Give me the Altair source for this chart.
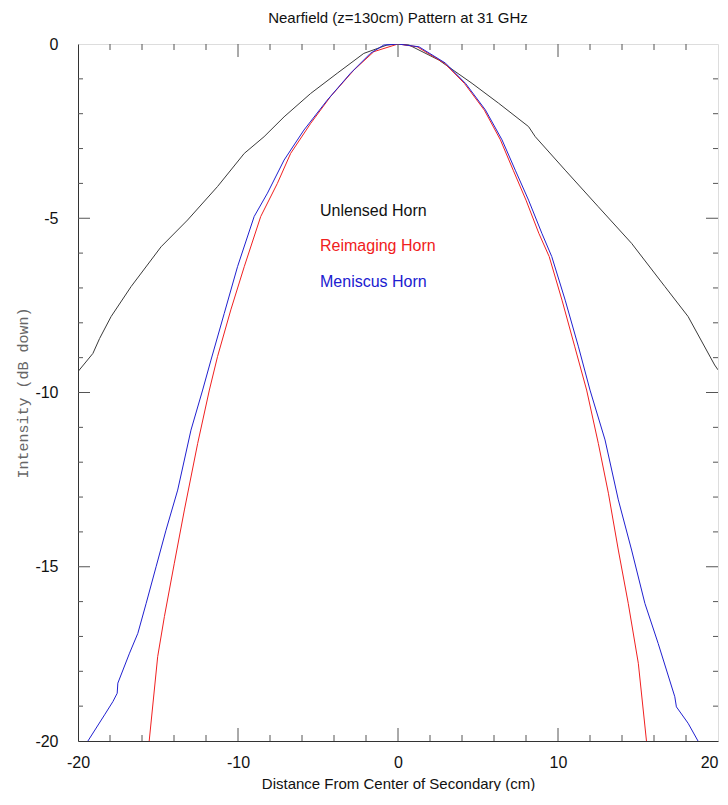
import altair as alt
import pandas as pd

# ---------------- data ----------------
series_names = ["Unlensed Horn", "Reimaging Horn", "Meniscus Horn"]
series_colors = ["#3a3a3a", "#f02020", "#2020d0"]

unlensed_x = [-20, -19.07, -18.65, -17.93, -16.68, -14.81, -13.15, -11.28, -9.61, -8.37,
              -7.12, -5.46, -3.80, -2.14, -0.69, 0, 0.69, 2.55, 4.63, 6.29, 8.16, 8.58,
              10.45, 12.52, 14.60, 16.68, 18.13, 19.79, 20]
unlensed_y = [-9.40, -8.88, -8.45, -7.82, -6.96, -5.82, -5.05, -4.09, -3.14, -2.66,
              -2.09, -1.42, -0.84, -0.27, -0.03, 0, -0.03, -0.46, -1.13, -1.70, -2.37, -2.66,
              -3.62, -4.67, -5.72, -6.96, -7.82, -9.21, -9.35]

reimaging_x = [-15.55, -15.02, -14.60, -13.98, -13.35, -12.52, -11.79, -11.28, -10.45, -9.61,
               -8.58, -7.54, -6.71, -5.46, -4.22, -2.76, -1.51, 0, 1.2, 2.9, 4.15, 5.4, 6.4,
               7.2, 8.0, 8.8, 9.45, 10.25, 11.05, 11.79, 12.52, 13.15, 13.77, 14.39, 15.02,
               15.53]
reimaging_y = [-20.0, -17.58, -16.43, -14.90, -13.37, -11.46, -9.93, -8.97, -7.63, -6.39,
               -4.95, -4.00, -3.14, -2.28, -1.51, -0.75, -0.22, 0, -0.08, -0.55, -1.13, -1.90,
               -2.75, -3.62, -4.48, -5.43, -6.10, -7.35, -8.69, -9.93, -11.46, -12.89, -14.52,
               -16.05, -17.77, -20.0]

meniscus_x = [-19.38, -18.34, -17.82, -17.55, -17.51, -16.78, -16.26, -15.74, -15.12, -14.50,
              -13.77, -12.94, -12.21, -11.69, -10.86, -10.03, -8.99, -8.16, -7.12, -5.88,
              -4.42, -2.97, -1.73, -0.89, 0, 1.31, 2.97, 4.22, 5.46, 6.50, 7.33, 8.16, 8.99,
              9.61, 10.45, 11.28, 12.00, 12.94, 13.77, 14.60, 15.43, 16.26, 17.30, 17.40,
              18.13, 18.75]
meniscus_y = [-20.0, -19.25, -18.87, -18.63, -18.34, -17.48, -16.91, -16.05, -15.00, -13.95,
              -12.80, -11.08, -9.93, -9.07, -7.73, -6.39, -4.95, -4.28, -3.33, -2.47,
              -1.61, -0.84, -0.27, -0.03, 0, -0.08, -0.55, -1.13, -1.89, -2.75, -3.62, -4.48,
              -5.43, -6.10, -7.35, -8.69, -9.93, -11.36, -13.08, -14.52, -16.05, -17.20,
              -18.73, -19.02, -19.49, -20.0]

x_label_values = [-20, -10, 0, 10, 20]
y_label_values = [0, -5, -10, -15, -20]
x_minor_ticks = [-18, -16, -14, -12, -8, -6, -4, -2, 2, 4, 6, 8, 12, 14, 16, 18]
x_major_ticks = [-10, 0, 10]
y_minor_ticks = [-1, -2, -3, -4, -6, -7, -8, -9, -11, -12, -13, -14, -16, -17, -18, -19]
y_major_ticks = [-5, -10, -15]

title_text = "Nearfield (z=130cm) Pattern at 31 GHz"
x_title = "Distance From Center of Secondary (cm)"
y_title = "Intensity (dB down)"

# ---------------- build ----------------
W, H = 640, 697
FONT = "Liberation Sans"
FRAME = "#333"

rows = []
for name, xs, ys in [(series_names[0], unlensed_x, unlensed_y),
                     (series_names[1], reimaging_x, reimaging_y),
                     (series_names[2], meniscus_x, meniscus_y)]:
    for i, (xv, yv) in enumerate(zip(xs, ys)):
        rows.append({"series": name, "x": xv, "y": yv, "i": i})
df = pd.DataFrame(rows)

xscale = alt.Scale(domain=[-20, 20], nice=False, zero=False)
yscale = alt.Scale(domain=[-20, 0], nice=False, zero=False)

x_axis = alt.Axis(values=x_label_values, title=x_title, grid=False, ticks=False,
                  domain=True, domainColor=FRAME, domainWidth=1,
                  labelPadding=13, labelFontSize=16, labelFont=FONT, labelColor="#111",
                  labelExpr="'' + datum.value",
                  labelAlign=alt.ExprRef("datum.value == 20 ? 'right' : 'center'"),
                  titleFont=FONT, titleFontSize=15, titleFontWeight="normal", titleColor="#111",
                  titleY=42, titleBaseline="middle", labelFlush=False)
y_axis = alt.Axis(values=y_label_values, title=y_title, grid=False, ticks=False,
                  domain=True, domainColor=FRAME, domainWidth=1,
                  labelPadding=20, labelFontSize=16, labelFont=FONT, labelColor="#111",
                  labelExpr="'' + datum.value",
                  titleFont="Liberation Mono", titleFontSize=15, titleFontWeight="normal",
                  titleColor="#666", titleX=-56, titleY=H / 2, titleAngle=-90,
                  titleAlign="center", titleBaseline="middle", labelFlush=False)

lines = alt.Chart(df).mark_line(strokeWidth=1, clip=True).encode(
    x=alt.X("x:Q", scale=xscale, axis=x_axis),
    y=alt.Y("y:Q", scale=yscale, axis=y_axis),
    color=alt.Color("series:N", scale=alt.Scale(domain=series_names, range=series_colors), legend=None),
    order=alt.Order("i:Q"),
)

TC = "#555"
def xticks(vals, length, top):
    d = pd.DataFrame({"x": vals})
    if top:
        enc = dict(y=alt.value(0), y2=alt.value(length))
    else:
        enc = dict(y=alt.value(H), y2=alt.value(H - length))
    return alt.Chart(d).mark_rule(color=TC, strokeWidth=1).encode(
        x=alt.X("x:Q", scale=xscale, axis=x_axis), **enc)

def yticks(vals, length, right):
    d = pd.DataFrame({"y": vals})
    if right:
        enc = dict(x=alt.value(W), x2=alt.value(W - length))
    else:
        enc = dict(x=alt.value(0), x2=alt.value(length))
    return alt.Chart(d).mark_rule(color=TC, strokeWidth=1).encode(
        y=alt.Y("y:Q", scale=yscale, axis=y_axis), **enc)

ticks = [
    xticks(x_minor_ticks, 6, False), xticks(x_major_ticks, 13, False),
    xticks(x_minor_ticks, 6, True), xticks(x_major_ticks, 13, True),
    yticks(y_minor_ticks, 5, False), yticks(y_major_ticks, 12, False),
    yticks(y_minor_ticks, 5, True), yticks(y_major_ticks, 12, True),
]

label_y = [167, 202, 238]
labels = []
for name, col, yy in zip(series_names, series_colors, label_y):
    labels.append(
        alt.Chart(pd.DataFrame({"label": [name]})).mark_text(
            align="left", baseline="middle", font=FONT, fontSize=16,
            color=col if name != series_names[0] else "#111"
        ).encode(text="label:N", x=alt.value(242), y=alt.value(yy))
    )

chart = alt.layer(lines, *ticks, *labels).properties(
    width=W, height=H,
    title=alt.Title(title_text, font=FONT, fontSize=15, fontWeight="normal",
                    anchor="middle", color="#111", offset=10),
    padding={"left": 70, "top": 36, "right": 2, "bottom": 50},
    autosize=alt.AutoSizeParams(type="none"),
).configure_view(stroke=FRAME, strokeWidth=1).configure(background="white")

chart.save("out.html", embed_options={"renderer": "svg", "actions": False})
